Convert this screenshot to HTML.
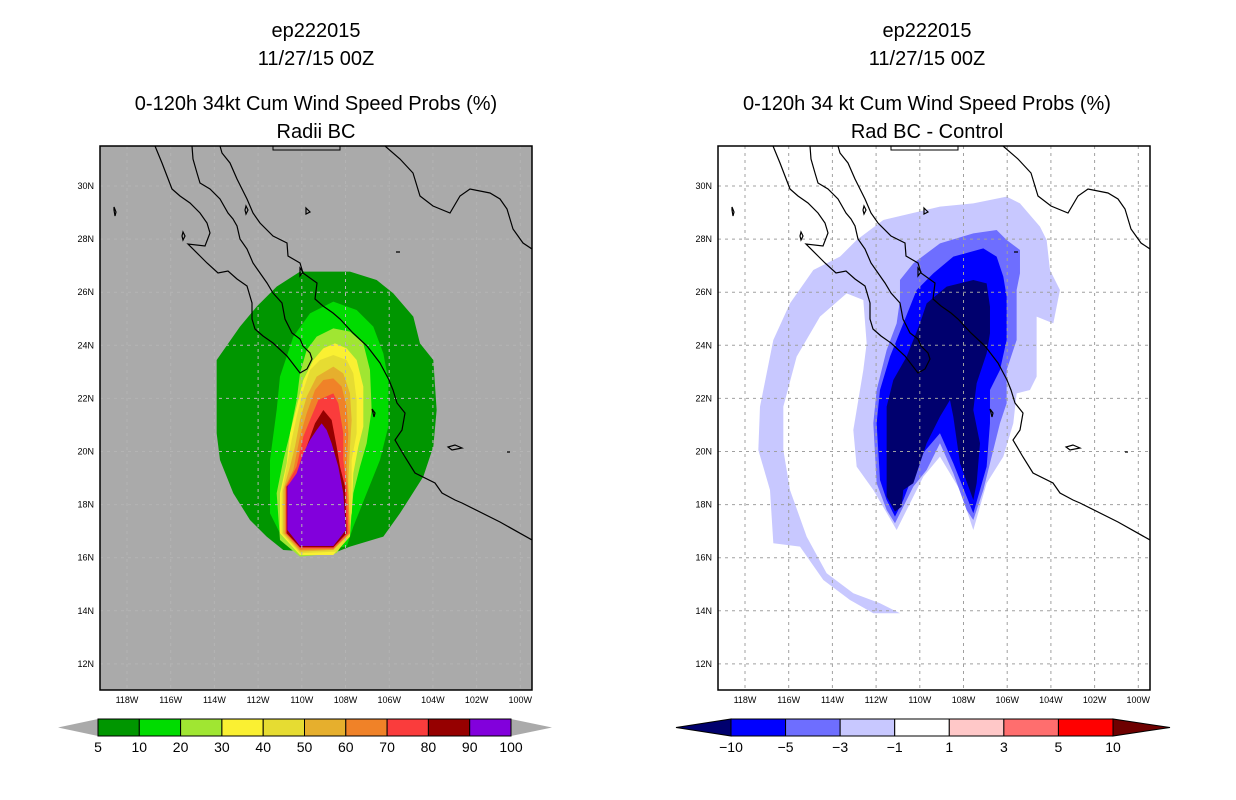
<!DOCTYPE html>
<html><head><meta charset="utf-8"><style>
html,body{margin:0;padding:0;background:#fff;}
svg{display:block;font-family:"Liberation Sans",sans-serif;}
</style></head><body>
<svg id="s" width="1236" height="800" viewBox="0 0 1236 800" xmlns="http://www.w3.org/2000/svg">
<rect width="1236" height="800" fill="#fff"/>
<g font-size="20" text-anchor="middle" fill="#000">
<text x="316" y="37">ep222015</text>
<text x="316" y="65">11/27/15 00Z</text>
<text x="316" y="110">0-120h 34kt Cum Wind Speed Probs (%)</text>
<text x="316" y="138">Radii BC</text>
<text x="927" y="37">ep222015</text>
<text x="927" y="65">11/27/15 00Z</text>
<text x="927" y="110">0-120h 34 kt Cum Wind Speed Probs (%)</text>
<text x="927" y="138">Rad BC - Control</text>
</g>
<defs>
<clipPath id="cl"><rect x="100" y="146" width="432" height="544"/></clipPath>
<clipPath id="cr"><rect x="718" y="146" width="432" height="544"/></clipPath>
</defs>
<rect x="100" y="146" width="432" height="544" fill="#aaaaaa"/>
<rect x="718" y="146" width="432" height="544" fill="#ffffff"/>
<g id="lmap" clip-path="url(#cl)"></g>
<g id="rmap" clip-path="url(#cr)"></g>
<rect x="100" y="146" width="432" height="544" fill="none" stroke="#000" stroke-width="1.5"/>
<rect x="718" y="146" width="432" height="544" fill="none" stroke="#000" stroke-width="1.5"/>
<g id="axes" font-size="9" fill="#000"></g>
<g id="bars" font-size="14" fill="#000" text-anchor="middle"></g>
</svg>
<script>
const NS="http://www.w3.org/2000/svg";
const lonTicks=[118,116,114,112,110,108,106,104,102,100];
const latTicks=[30,28,26,24,22,20,18,16,14,12];
const leftLevels=["5","10","20","30","40","50","60","70","80","90","100"];
const leftColors=["#009600","#00dc00","#a0e632","#faf032","#e6dc32","#e6af2d","#f08228","#fa3c3c","#960000","#8200dc"];
const rightLevels=["-10","-5","-3","-1","1","3","5","10"];
const rightColors=["#00006e","#0000ff","#6e6eff","#c8c8ff","#ffffff","#ffc8c8","#ff6e6e","#ff0000"];
const leftContours=[
"300,35 450,35 530,60 580,100 640,170 660,250 700,300 710,450 700,560 670,650 600,760 550,830 450,860 400,880 250,870 200,830 150,780 100,700 60,600 50,520 50,300 120,200 170,140 230,80",
"400,125 470,150 520,200 550,280 565,360 565,500 540,600 500,700 460,800 440,860 330,870 250,840 210,760 210,600 230,450 240,350 280,230 330,160",
"400,205 450,215 490,250 510,330 515,450 500,550 480,620 460,700 450,820 410,880 300,890 240,840 230,700 250,600 270,520 290,420 300,340 320,270 350,230",
"405,250 440,265 470,300 490,380 490,500 475,560 460,640 455,760 430,850 400,885 300,885 240,820 240,700 260,610 270,520 290,440 310,360 340,300 370,265",
"400,285 440,300 460,340 470,420 470,520 455,600 455,720 450,830 410,875 300,880 245,820 245,700 260,620 275,540 290,470 310,390 330,330 360,300",
"400,320 430,340 450,400 455,480 450,560 445,660 450,820 400,870 300,875 250,820 250,690 270,620 285,560 300,480 320,410 350,350",
"400,355 425,380 440,440 445,520 440,620 445,700 450,820 400,868 300,870 255,820 255,680 280,630 300,530 320,460 345,390 370,360",
"400,400 415,430 430,520 430,600 440,680 445,820 400,865 300,865 258,820 258,680 290,620 310,530 330,480 355,420",
"370,450 395,480 410,560 420,620 435,680 440,820 400,862 300,862 260,820 260,680 300,640 320,560 345,490",
"365,490 380,510 395,550 415,620 430,700 438,810 400,858 300,858 262,810 262,680 290,640 310,580 330,540 350,510"];
const rightContours=[
["#c8c8ff","430,90 600,50 700,40 800,20 840,40 900,110 920,150 930,240 960,300 940,400 890,380 890,560 870,600 830,610 820,700 790,800 740,880 700,1020 660,900 600,800 550,860 470,1020 400,900 350,830 340,720 370,540 380,460 370,330 320,310 240,380 170,500 130,650 130,780 150,900 200,1040 260,1150 340,1210 420,1240 480,1270 400,1270 330,1230 250,1170 180,1070 100,1060 90,900 55,780 60,650 100,450 150,340 220,240 300,200 350,150"],
["#6e6eff","480,270 520,220 600,160 700,130 770,120 800,150 840,180 840,250 830,300 830,450 800,540 800,640 780,700 760,780 730,900 700,990 680,960 640,850 600,760 560,840 520,890 490,950 465,1000 440,960 410,880 400,700 410,600 440,480 470,400 480,330"],
["#0000ff","490,400 530,300 580,250 640,200 730,175 770,200 790,260 800,320 800,450 780,540 750,600 750,700 740,830 720,900 700,970 680,920 640,820 600,730 540,800 490,930 465,980 440,930 420,870 410,700 420,600 450,500"],
["#00006e","540,400 560,340 620,290 700,270 740,280 750,350 750,430 740,490 710,580 700,660 720,760 710,880 700,930 660,820 640,680 630,630 600,680 560,760 520,880 490,900 485,950 465,965 440,920 440,780 440,650 460,570 500,500"]];
// coastlines in left-panel page coords
const coasts=[
"155,146 162,163 167,176 172,189 180,196 190,203 200,213 207,223 210,233 205,246 188,244 200,256 207,263 218,273 228,271 237,279 247,286 252,303 252,319 255,329 263,336 273,343 287,356 300,373 307,369 312,359 310,353 303,346 300,339 292,333 285,319 282,303 273,293 267,283 260,273 253,263 247,249 240,239 237,226 233,219 228,213 220,199 210,189 200,183 197,173 193,159 192,146",
"220,146 222,153 230,163 237,179 247,199 253,213 260,223 273,236 287,243 288,256 300,263 303,273 317,283 315,299 323,306 333,313 340,319 353,333 367,346 380,363 389,380 393,390 397,403 405,413 402,430 395,440 405,457 415,473 435,483 442,493 455,500 462,503 500,522 532,540",
"385,146 400,159 413,173 420,196 433,206 450,213 460,196 470,189 490,193 500,199 507,209 513,229 523,243 532,249"];
const islands=["114,207 116,212 115,216 114,210","183,232 185,236 183,240 182,236","246,206 248,210 246,214 245,210","306,208 310,212 306,214","300,268 303,272 300,276","396,252 400,252","372,409 375,413 374,417","455,445 462,448 452,450 448,447","507,452 510,452"];
const svg=document.getElementById('s');
function mk(tag,attrs,parent){const e=document.createElementNS(NS,tag);for(const k in attrs)e.setAttribute(k,attrs[k]);parent.appendChild(e);return e;}
function lonX(x0,lon){return x0+27+(118-lon)/2*43.7;}
function latY(lat){return 186+(30-lat)/2*53.1;}
const lg=mk('g',{transform:'translate(200,260) scale(0.3333)'},document.getElementById('lmap'));
leftContours.forEach((p,i)=>{const e=mk('polygon',{points:p,fill:leftColors[i]},lg);

});
const rg=mk('g',{transform:'translate(740,190) scale(0.3333)'},document.getElementById('rmap'));
rightContours.forEach((c,i)=>{const e=mk('polygon',{points:c[1],fill:c[0]},rg);

});
[[100,'lmap','#b4b4b4'],[718,'rmap','#a0a0a0']].forEach(([x0,id,gc])=>{
 const g=document.getElementById(id);
 lonTicks.forEach(l=>{const x=lonX(x0,l);const e=mk('line',{x1:x,x2:x,y1:146,y2:690,stroke:gc,"stroke-dasharray":'3,4'},g);
 });
 latTicks.forEach(l=>{const y=latY(l);const e=mk('line',{x1:x0,x2:x0+432,y1:y,y2:y,stroke:gc,"stroke-dasharray":'3,4'},g);
 });
 const cg=mk('g',{transform:'translate('+(x0-100)+',0)'},g);
 coasts.forEach(p=>{const e=mk('polyline',{points:p,fill:'none',stroke:'#000','stroke-width':1.2},cg);
 });
 islands.forEach(p=>{const e=mk('polygon',{points:p,fill:'none',stroke:'#000','stroke-width':1.2},cg);
 });
 const nb=mk('polyline',{points:'273,146 273,150 340,150 340,146 M',fill:'none',stroke:'#000','stroke-width':1},cg);
 
 const ax=document.getElementById('axes');
 lonTicks.forEach(l=>{const t=mk('text',{x:lonX(x0,l),y:703,'text-anchor':'middle'},ax);t.textContent=l+'W';
 });
 latTicks.forEach(l=>{const t=mk('text',{x:x0-6,y:latY(l)+3,'text-anchor':'end'},ax);t.textContent=l+'N';
 });
});
const bars=document.getElementById('bars');
(function(){const x0=98,x1=511,y0=719,y1=736,w=(x1-x0)/leftColors.length;
 let a=mk('polygon',{points:`58,${(y0+y1)/2} ${x0},${y0} ${x0},${y1}`,fill:'#aaa'},bars);
 
 a=mk('polygon',{points:`552,${(y0+y1)/2} ${x1},${y0} ${x1},${y1}`,fill:'#aaa'},bars);
 
 leftColors.forEach((c,i)=>{const r=mk('rect',{x:x0+i*w,y:y0,width:w,height:y1-y0,fill:c,stroke:'#000'},bars);
 });
 leftLevels.forEach((l,i)=>{const t=mk('text',{x:x0+i*w,y:752},bars);t.textContent=l;
 });
})();
(function(){const x0=731,x1=1113,y0=719,y1=736,n=rightColors.length-1,w=(x1-x0)/n;
 let a=mk('polygon',{points:`676,${(y0+y1)/2} ${x0},${y0} ${x0},${y1}`,fill:rightColors[0],stroke:'#000'},bars);
 
 a=mk('polygon',{points:`1170,${(y0+y1)/2} ${x1},${y0} ${x1},${y1}`,fill:'#6e0000',stroke:'#000'},bars);
 
 for(let i=0;i<n;i++){const r=mk('rect',{x:x0+i*w,y:y0,width:w,height:y1-y0,fill:rightColors[i+1],stroke:'#000'},bars);
 }
 rightLevels.forEach((l,i)=>{const t=mk('text',{x:x0+i*w,y:752},bars);t.textContent=l.replace('-','\u2212');
 });
})();
</script>
</body></html>
